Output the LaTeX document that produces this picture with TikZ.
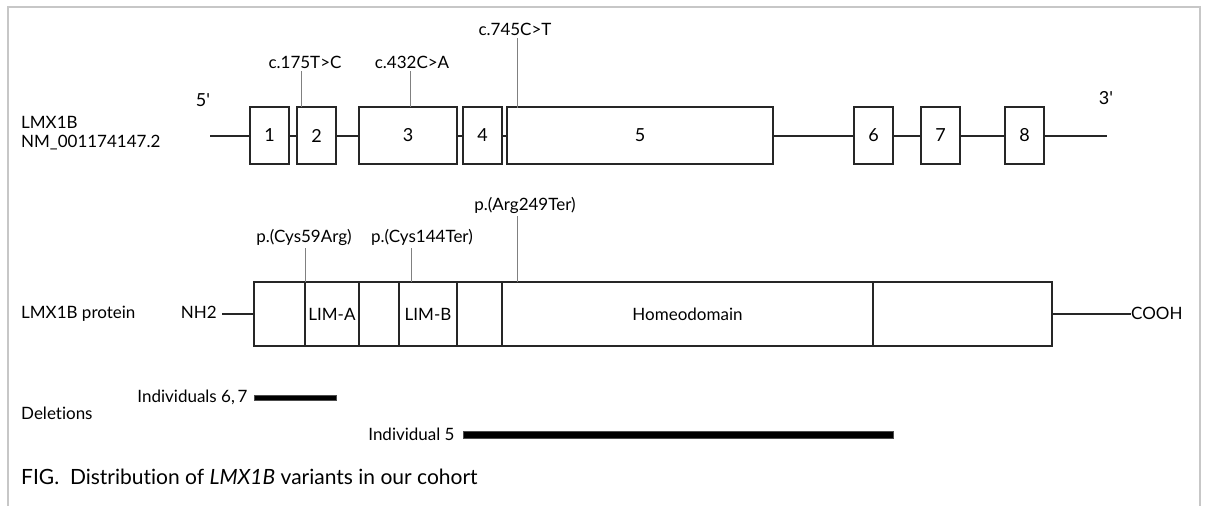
\documentclass[tikz,border=0pt]{standalone}
\usepackage{fontspec}
\setmainfont{Lato}[Ligatures={TeX,NoCommon}]
\begin{document}
\begin{tikzpicture}[x=1pt,y=-1pt,
  txt/.style={inner sep=0pt,font=\fontsize{17}{19}\selectfont,text=black},
  exon/.style={draw=black!85,line width=2pt,fill=white,minimum height=57pt,inner sep=0pt,font=\fontsize{18}{20}\selectfont},
  seg/.style={draw=black!85,line width=2pt,fill=white,minimum height=64pt,inner sep=0pt,font=\fontsize{17}{19}\selectfont},
  intron/.style={draw=black!85,line width=2pt},
  mut/.style={draw=black!50,line width=1pt},
  delbar/.style={fill=black,draw=black!70,line width=0.4pt,inner sep=0pt,minimum height=#1},
  frame/.style={draw=black!22,line width=1.2pt}]
\useasboundingbox (0,0) rectangle (1205,506);
% frame
\coordinate (fbl) at (8,506);
\coordinate (ftl) at (8,7);
\coordinate (ftr) at (1200,7);
\coordinate (fbr) at (1200,506);
\draw[frame] (fbl) -- (ftl) -- (ftr) -- (fbr);

% gene labels
\node[txt,anchor=west] (g1) at (21,122) {LMX1B};
\node[txt,anchor=west] (g2) at (21,143) {NM\_001174147.2};
\node[txt,font=\fontsize{18}{20}\selectfont] (p5) at (203,100) {5\textquotesingle};
\node[txt,font=\fontsize{18}{20}\selectfont] (p3) at (1106,98) {3\textquotesingle};

% exons
\node[exon,minimum width=39pt] (e1) at (269.5,135.5) {1};
\node[exon,minimum width=39pt] (e2) at (316.5,135.5) {2};
\node[exon,minimum width=98pt] (e3) at (408,135.5) {3};
\node[exon,minimum width=39pt] (e4) at (482.5,135.5) {4};
\node[exon,minimum width=266pt] (e5) at (640,135.5) {5};
\node[exon,minimum width=39pt] (e6) at (873.5,135.5) {6};
\node[exon,minimum width=39pt] (e7) at (940.5,135.5) {7};
\node[exon,minimum width=39pt] (e8) at (1024.5,135.5) {8};
\coordinate (gs) at (210,135.5);
\coordinate (ge) at (1107,135.5);
\draw[intron] (gs) -- (e1.west);
\draw[intron] (e1.east) -- (e2.west);
\draw[intron] (e2.east) -- (e3.west);
\draw[intron] (e3.east) -- (e4.west);
\draw[intron] (e4.east) -- (e5.west);
\draw[intron] (e5.east) -- (e6.west);
\draw[intron] (e6.east) -- (e7.west);
\draw[intron] (e7.east) -- (e8.west);
\draw[intron] (e8.east) -- (ge);

% gene mutations
\node[txt] (c1) at (305,62) {c.175T>C};
\node[txt] (c2) at (412,62) {c.432C>A};
\node[txt] (c3) at (515,29) {c.745C>T};
\coordinate (c1b) at (301,107);
\coordinate (c2b) at (410,107);
\coordinate (c3b) at (517,108);
\draw[mut] (c1b) -- ([yshift=-3pt]c1b |- c1.south);
\draw[mut] (c2b) -- ([yshift=-3pt]c2b |- c2.south);
\draw[mut] (c3b) -- ([yshift=-3pt]c3b |- c3.south);

% protein
\node[txt,anchor=west] (pl) at (21,314) {LMX1B protein};
\node[seg,minimum width=51pt] (d1) at (279.5,314) {};
\node[seg,minimum width=54pt] (d2) at (332,314) {LIM-A};
\node[seg,minimum width=40pt] (d3) at (379,314) {};
\node[seg,minimum width=58pt] (d4) at (428,314) {LIM-B};
\node[seg,minimum width=45pt] (d5) at (479.5,314) {};
\node[seg,minimum width=371pt] (d6) at (687.5,314) {Homeodomain};
\node[seg,minimum width=179pt] (d7) at (962.5,314) {};
\node[txt,anchor=east] (nh) at (217,312) {NH2};
\node[txt,anchor=west] (co) at (1131,313) {COOH};
\draw[intron] (d1.west -| nh.east) ++(5pt,0) -- (d1.west);
\draw[intron] (d7.east) -- (d7.east -| co.west);

% protein mutations
\node[txt] (q1) at (304,237) {p.(Cys59Arg)};
\node[txt] (q2) at (422,237) {p.(Cys144Ter)};
\node[txt] (q3) at (525,205) {p.(Arg249Ter)};
\coordinate (q1b) at (305,282);
\coordinate (q2b) at (411,282);
\coordinate (q3b) at (517,282);
\draw[mut] (q1b) -- ([yshift=-3pt]q1b |- q1.south);
\draw[mut] (q2b) -- ([yshift=-3pt]q2b |- q2.south);
\draw[mut] (q3b) -- ([yshift=-3pt]q3b |- q3.south);

% deletions
\node[txt,anchor=west] (dl) at (21,413) {Deletions};
\node[delbar=5pt,minimum width=82pt] (b1) at (295,397.5) {};
\node[delbar=7pt,minimum width=430pt] (b2) at (678,434.5) {};
\node[txt,anchor=east] (i1) at ([xshift=-6pt]b1.west) {Individuals 6,\,7};
\node[txt,anchor=east] (i2) at ([xshift=-8pt]b2.west) {Individual 5};

% caption
\node[txt,anchor=west,font=\fontsize{21}{24}\selectfont] (cap) at (21,477) {FIG.\ \ Distribution of \textit{LMX1B} variants in our cohort};
\end{tikzpicture}
\end{document}
